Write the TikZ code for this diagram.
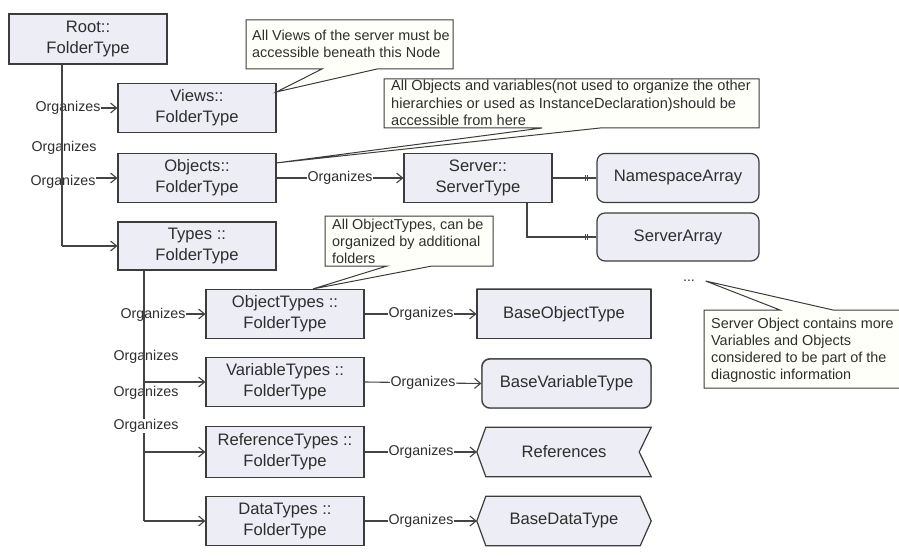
\documentclass[tikz,border=0pt]{standalone}
\usepackage{fontspec}
\setmainfont{Liberation Sans}
\usetikzlibrary{arrows.meta}

\definecolor{boxfill}{HTML}{ECEDF5}
\definecolor{boxline}{HTML}{3C3C3C}
\definecolor{ink}{HTML}{2E2E2E}
\definecolor{wire}{HTML}{444444}
\definecolor{notefill}{HTML}{FFFFFA}
\definecolor{shade}{HTML}{EBEBF4}

\pgfdeclarelayer{shadowlayer}
\pgfdeclarelayer{shapelayer}
\pgfsetlayers{shadowlayer,shapelayer,main}

\tikzset{
  x=1pt, y=-1pt,
  folder/.style={draw=boxline, fill=boxfill, line width=1.2pt,
    minimum width=158pt, minimum height=49pt, inner sep=2pt,
    align=center, text=ink, font=\fontsize{16.6}{21}\selectfont},
  leaf/.style={folder, minimum width=162pt, rounded corners=8pt},
  plainleaf/.style={minimum width=174pt, minimum height=49pt, inner sep=2pt,
    align=center, text=ink, font=\fontsize{16.6}{21}\selectfont},
  shapeline/.style={draw=boxline, fill=boxfill, line width=1.2pt},
  conn/.style={draw=wire, line width=1.1pt},
  arr/.style={conn, -{Straight Barb[length=6pt,width=10pt,line width=1.1pt]}},
  lbl/.style={text=ink, fill=white, inner sep=0.5pt, font=\fontsize{14.2}{16}\selectfont},
  notebox/.style={draw=boxline, fill=notefill, line width=1pt, line join=miter},
  notetext/.style={anchor=north west, inner sep=0pt, align=left, text=ink,
    font=\fontsize{14.4}{17}\selectfont},
  tick/.style={draw=wire, line width=1pt},
}

\begin{document}
\begin{tikzpicture}
\useasboundingbox (0,0) rectangle (899,556);

% ---- folder hierarchy ----
\node[folder, minimum height=50pt] (root)  at (88,39)  {Root::\\FolderType};
\node[folder] (views)   at (197,108) {Views::\\FolderType};
\node[folder] (objects) at (197,178) {Objects::\\FolderType};
\node[folder, minimum height=48pt] (types) at (197,246) {Types ::\\FolderType};

\node[folder, minimum width=148pt] (server) at (478,178) {Server::\\ServerType};
\node[leaf] (nsarray) at (678,178) {NamespaceArray};
\node[leaf, minimum height=48pt] (srvarray) at (678,237) {ServerArray};

\node[folder] (objtypes) at (285,314) {ObjectTypes ::\\FolderType};
\node[folder] (vartypes) at (285,382) {VariableTypes ::\\FolderType};
\node[folder, minimum height=51pt] (reftypes) at (285,452) {ReferenceTypes ::\\FolderType};
\node[folder] (datatypes) at (285,521) {DataTypes ::\\FolderType};

% ---- base type nodes (outlines and shadows drawn on lower layers) ----
\node[folder, minimum width=174pt] (baseobj) at (564,314) {BaseObjectType};
\node[folder, minimum width=169pt, rounded corners=8pt] (basevar) at (566.5,383.5) {BaseVariableType};
\node[plainleaf] (refs) at (564,452) {References};
\node[plainleaf] (basedata) at (564,521) {BaseDataType};

\begin{pgfonlayer}{shapelayer}
  \path[shapeline] ([xshift=9pt]refs.north west) -- (refs.north east)
    -- ([xshift=-12pt]refs.east) -- (refs.south east)
    -- ([xshift=9pt]refs.south west) -- (refs.west) -- cycle;
  \path[shapeline] ([xshift=9pt]basedata.north west) -- ([xshift=-11pt]basedata.north east)
    -- (basedata.east) -- ([xshift=-11pt]basedata.south east)
    -- ([xshift=9pt]basedata.south west) -- (basedata.west) -- cycle;
\end{pgfonlayer}

\begin{pgfonlayer}{shadowlayer}
  \begin{scope}[shift={(15,15)}]
    \fill[shade] (baseobj.north west) rectangle (baseobj.south east);
    \fill[shade, rounded corners=8pt] (basevar.north west) rectangle (basevar.south east);
    \fill[shade] ([xshift=9pt]refs.north west) -- (refs.north east)
      -- ([xshift=-12pt]refs.east) -- (refs.south east)
      -- ([xshift=9pt]refs.south west) -- (refs.west) -- cycle;
    \fill[shade] ([xshift=9pt]basedata.north west) -- ([xshift=-11pt]basedata.north east)
      -- (basedata.east) -- ([xshift=-11pt]basedata.south east)
      -- ([xshift=9pt]basedata.south west) -- (basedata.west) -- cycle;
  \end{scope}
\end{pgfonlayer}

% ---- connectors from Root: branches, their labels, then the trunk on top ----
\coordinate (rtrunk) at ([xshift=-26pt]root.south);
\draw[arr] (rtrunk |- types.west) -- (types.west);
\draw[arr] (rtrunk |- views.west) -- (views.west);
\draw[arr] (rtrunk |- objects.west) -- (objects.west);
\node[lbl] (l1) at (68,108) {Organizes};
\node[lbl] (l2) at (64,148) {Organizes};
\node[lbl] (l3) at (63,182) {Organizes};
\draw[conn] (rtrunk) -- (rtrunk |- types.west);

% ---- Objects -> Server and its properties ----
\draw[arr] (objects.east) -- (server.west);
\node[lbl] (l4) at (340,178) {Organizes};
\draw[conn] (server.east) -- (nsarray.west);
\draw[conn] ([xshift=49pt]server.south) |- (srvarray.west);
\foreach \n in {nsarray, srvarray}{
  \draw[tick] ([xshift=-11pt,yshift=3pt]\n.west) -- ([xshift=-11pt,yshift=-3pt]\n.west);
  \draw[tick] ([xshift=-9pt,yshift=3pt]\n.west) -- ([xshift=-9pt,yshift=-3pt]\n.west);
}

% ---- connectors from Types ----
\coordinate (ttrunk) at ([xshift=-53pt]types.south);
\draw[arr] (ttrunk |- objtypes.west) -- (objtypes.west);
\draw[arr] (ttrunk |- vartypes.west) -- (vartypes.west);
\draw[arr] (ttrunk |- reftypes.west) -- (reftypes.west);
\draw[arr] (ttrunk |- datatypes.west) -- (datatypes.west);
\node[lbl] (l5) at (153,315) {Organizes};
\node[lbl] (l6) at (146,357) {Organizes};
\node[lbl] (l7) at (146,393) {Organizes};
\draw[conn] (ttrunk) -- (ttrunk |- datatypes.west);
\node[lbl] (l8) at (146,426) {Organizes};

% ---- type folders -> base types ----
\draw[arr] (objtypes.east) -- (baseobj.west);
\draw[arr] (vartypes.east) -- (basevar.west);
\draw[arr] (reftypes.east) -- (refs.west);
\draw[arr] (datatypes.east) -- (basedata.west);
\node[lbl] (l9)  at (421,314) {Organizes};
\node[lbl] (l10) at (423,383) {Organizes};
\node[lbl] (l11) at (421,452) {Organizes};
\node[lbl] (l12) at (421,521) {Organizes};

\node[lbl] (dots) at (689,281) {...};

% ---- notes ----
\draw[notebox] (246,20) -- (453,20) -- (453,69) -- (377,69)
  -- ([yshift=-9pt]views.north east) -- (322,69) -- (246,69) -- cycle;
\node[notetext] (n1) at (252,30)
  {All Views of the server must be\\accessible beneath this Node};

\draw[notebox] (384,79) -- (759,79) -- (759,128) -- (600,128)
  -- ([yshift=-10pt]objects.north east) -- (542,128) -- (384,128) -- cycle;
\node[notetext, font=\fontsize{14.6}{17.5}\selectfont] (n2) at (391,80)
  {All Objects and variables(not used to organize the other\\
   hierarchies or used as InstanceDeclaration)should be\\
   accessible from here};

\draw[notebox] (325,216) -- (493,216) -- (493,266) -- (432,266)
  -- ([xshift=28pt]objtypes.north) -- (387,266) -- (325,266) -- cycle;
\node[notetext] (n3) at (332,219)
  {All ObjectTypes, can be\\organized by additional\\folders};

\draw[notebox] (704,310) -- (780,310) -- ([xshift=10pt]dots.east) -- (833,310)
  -- (905,310) -- (905,388) -- (704,388) -- cycle;
\node[notetext] (n4) at (711,318)
  {Server Object contains more\\Variables and Objects\\considered to be part of the\\diagnostic information};

\end{tikzpicture}
\end{document}
